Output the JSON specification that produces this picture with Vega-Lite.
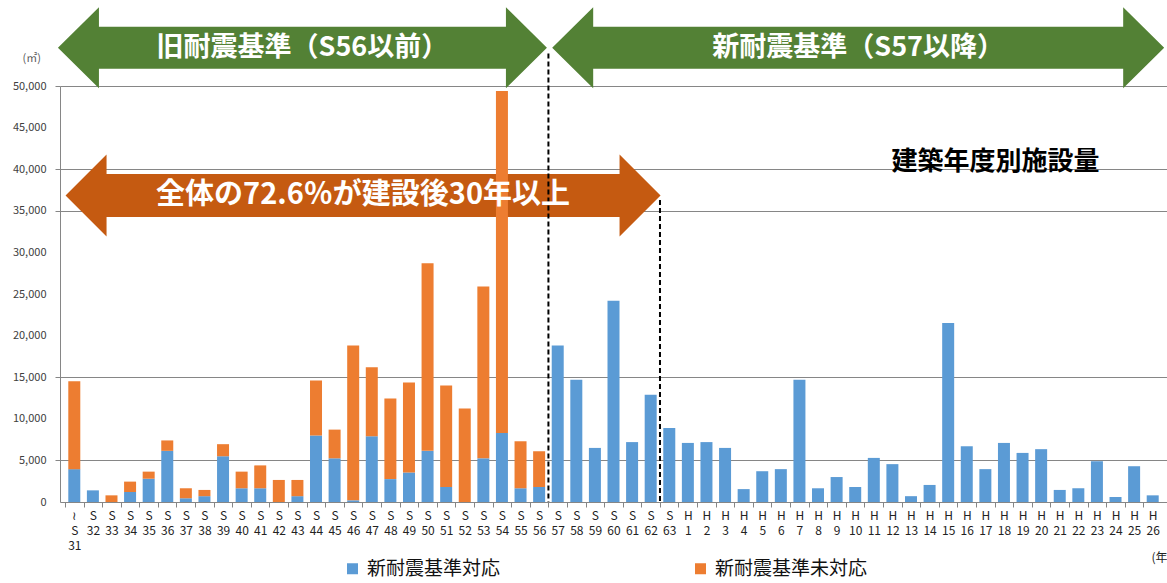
{
  "$schema": "https://vega.github.io/schema/vega-lite/v6.json",
  "width": 1107,
  "height": 416,
  "autosize": "none",
  "padding": {"left": 60, "top": 86, "right": 0, "bottom": 81},
  "background": "white",
  "config": {"view": {"stroke": null}, "font": "Noto Sans CJK JP"},
  "datasets": {
    "arrows": [
      {"範囲": "旧耐震基準", "label": "旧耐震基準（S56以前）", "番号": 12.27, "面積": 54600},
      {"範囲": "新耐震基準", "label": "新耐震基準（S57以降）", "番号": 42.16, "面積": 54600},
      {"範囲": "30年以上", "label": "全体の72.6％が建設後30年以上", "番号": 15.53, "面積": 36840}
    ]
  },
  "encoding": {
    "x": {
      "field": "番号", "type": "quantitative",
      "scale": {"domain": [-0.5, 58.5], "nice": false, "zero": false},
      "axis": {
        "values": [0,1,2,3,4,5,6,7,8,9,10,11,12,13,14,15,16,17,18,19,20,21,22,23,24,25,26,27,28,29,30,31,32,33,34,35,36,37,38,39,40,41,42,43,44,45,46,47,48,49,50,51,52,53,54,55,56,57,58],
        "labelExpr": "datum.value == 0 ? ['≀','S','31'] : (datum.value <= 32 ? ['S', '' + (datum.value + 31)] : ['H', '' + (datum.value - 32)])",
        "labelAngle": 0,
        "labelFontSize": 12,
        "labelLineHeight": 15,
        "labelPadding": 3,
        "labelColor": "#222222",
        "labelOverlap": false,
        "labelFlush": false,
        "labelBound": false,
        "labelBaseline": "top",
        "tickOffset": -9.38,
        "labelOffset": 9.38,
        "tickSize": 5,
        "tickColor": "#868686",
        "domainColor": "#868686",
        "grid": false,
        "title": "(年度)",
        "titleX": 1091,
        "titleY": 55,
        "titleAlign": "left",
        "titleBaseline": "middle",
        "titleAnchor": null,
        "titleFontSize": 12,
        "titleFontWeight": "normal",
        "titleColor": "#222222"
      }
    },
    "y": {
      "field": "面積", "type": "quantitative",
      "scale": {"domain": [0, 50000]},
      "axis": {
        "values": [0, 5000, 10000, 15000, 20000, 25000, 30000, 35000, 40000, 45000, 50000],
        "format": ",d",
        "grid": true,
        "gridColor": "#868686",
        "gridOpacity": {"condition": {"test": "indexof([5000,15000,35000,40000,50000], datum.value) >= 0", "value": 1}, "value": 0},
        "tickOpacity": {"condition": {"test": "indexof([5000,15000,35000,40000,50000], datum.value) >= 0", "value": 1}, "value": 0},
        "tickSize": 5,
        "tickColor": "#868686",
        "domainColor": "#868686",
        "labelFontSize": 11,
        "labelColor": "#404040",
        "labelPadding": 9,
        "labelOverlap": false,
        "title": "(㎡)",
        "titleAngle": 0,
        "titleX": -38,
        "titleY": -28,
        "titleAlign": "left",
        "titleBaseline": "middle",
        "titleFontSize": 11,
        "titleFontWeight": "normal",
        "titleColor": "#595959"
      }
    }
  },
  "layer": [
    {
      "data": {"name": "arrows"},
      "mark": {"type": "point", "filled": true, "size": 4, "opacity": 1, "strokeWidth": 0},
      "encoding": {
        "shape": {
          "field": "範囲", "type": "nominal", "legend": null,
          "scale": {
            "domain": ["旧耐震基準", "新耐震基準", "30年以上"],
            "range": [
              "M-244.5,0L-203.5,-40.5L-203.5,-21L203.5,-21L203.5,-40.5L244.5,0L203.5,40.5L203.5,21L-203.5,21L-203.5,40.5Z",
              "M-306,0L-265,-40.5L-265,-21L265,-21L265,-40.5L306,0L265,40.5L265,21L-265,21L-265,40.5Z",
              "M-297.5,0L-256.5,-41L-256.5,-21.5L256.5,-21.5L256.5,-41L297.5,0L256.5,41L256.5,21.5L-256.5,21.5L-256.5,41Z"
            ]
          }
        },
        "fill": {
          "field": "範囲", "type": "nominal", "legend": null,
          "scale": {"domain": ["旧耐震基準", "新耐震基準", "30年以上"], "range": ["#538135", "#538135", "#C55A11"]}
        }
      }
    },
    {
      "data": {
        "values": [
          {"番号": 0, "年度": "S31", "新耐震基準対応": 3950, "新耐震基準未対応": 10550},
          {"番号": 1, "年度": "S32", "新耐震基準対応": 1400, "新耐震基準未対応": 0},
          {"番号": 2, "年度": "S33", "新耐震基準対応": 0, "新耐震基準未対応": 800},
          {"番号": 3, "年度": "S34", "新耐震基準対応": 1200, "新耐震基準未対応": 1250},
          {"番号": 4, "年度": "S35", "新耐震基準対応": 2800, "新耐震基準未対応": 850},
          {"番号": 5, "年度": "S36", "新耐震基準対応": 6150, "新耐震基準未対応": 1250},
          {"番号": 6, "年度": "S37", "新耐震基準対応": 450, "新耐震基準未対応": 1200},
          {"番号": 7, "年度": "S38", "新耐震基準対応": 700, "新耐震基準未対応": 750},
          {"番号": 8, "年度": "S39", "新耐震基準対応": 5500, "新耐震基準未対応": 1450},
          {"番号": 9, "年度": "S40", "新耐震基準対応": 1650, "新耐震基準未対応": 2000},
          {"番号": 10, "年度": "S41", "新耐震基準対応": 1650, "新耐震基準未対応": 2750},
          {"番号": 11, "年度": "S42", "新耐震基準対応": 0, "新耐震基準未対応": 2650},
          {"番号": 12, "年度": "S43", "新耐震基準対応": 700, "新耐震基準未対応": 1950},
          {"番号": 13, "年度": "S44", "新耐震基準対応": 8000, "新耐震基準未対応": 6600},
          {"番号": 14, "年度": "S45", "新耐震基準対応": 5250, "新耐震基準未対応": 3450},
          {"番号": 15, "年度": "S46", "新耐震基準対応": 200, "新耐震基準未対応": 18600},
          {"番号": 16, "年度": "S47", "新耐震基準対応": 7900, "新耐震基準未対応": 8300},
          {"番号": 17, "年度": "S48", "新耐震基準対応": 2750, "新耐震基準未対応": 9700},
          {"番号": 18, "年度": "S49", "新耐震基準対応": 3550, "新耐震基準未対応": 10800},
          {"番号": 19, "年度": "S50", "新耐震基準対応": 6150, "新耐震基準未対応": 22550},
          {"番号": 20, "年度": "S51", "新耐震基準対応": 1800, "新耐震基準未対応": 12200},
          {"番号": 21, "年度": "S52", "新耐震基準対応": 0, "新耐震基準未対応": 11250},
          {"番号": 22, "年度": "S53", "新耐震基準対応": 5250, "新耐震基準未対応": 20650},
          {"番号": 23, "年度": "S54", "新耐震基準対応": 8300, "新耐震基準未対応": 41100},
          {"番号": 24, "年度": "S55", "新耐震基準対応": 1650, "新耐震基準未対応": 5650},
          {"番号": 25, "年度": "S56", "新耐震基準対応": 1800, "新耐震基準未対応": 4300},
          {"番号": 26, "年度": "S57", "新耐震基準対応": 18800, "新耐震基準未対応": 0},
          {"番号": 27, "年度": "S58", "新耐震基準対応": 14700, "新耐震基準未対応": 0},
          {"番号": 28, "年度": "S59", "新耐震基準対応": 6500, "新耐震基準未対応": 0},
          {"番号": 29, "年度": "S60", "新耐震基準対応": 24200, "新耐震基準未対応": 0},
          {"番号": 30, "年度": "S61", "新耐震基準対応": 7200, "新耐震基準未対応": 0},
          {"番号": 31, "年度": "S62", "新耐震基準対応": 12900, "新耐震基準未対応": 0},
          {"番号": 32, "年度": "S63", "新耐震基準対応": 8900, "新耐震基準未対応": 0},
          {"番号": 33, "年度": "H1", "新耐震基準対応": 7100, "新耐震基準未対応": 0},
          {"番号": 34, "年度": "H2", "新耐震基準対応": 7200, "新耐震基準未対応": 0},
          {"番号": 35, "年度": "H3", "新耐震基準対応": 6500, "新耐震基準未対応": 0},
          {"番号": 36, "年度": "H4", "新耐震基準対応": 1550, "新耐震基準未対応": 0},
          {"番号": 37, "年度": "H5", "新耐震基準対応": 3700, "新耐震基準未対応": 0},
          {"番号": 38, "年度": "H6", "新耐震基準対応": 3950, "新耐震基準未対応": 0},
          {"番号": 39, "年度": "H7", "新耐震基準対応": 14700, "新耐震基準未対応": 0},
          {"番号": 40, "年度": "H8", "新耐震基準対応": 1650, "新耐震基準未対応": 0},
          {"番号": 41, "年度": "H9", "新耐震基準対応": 3000, "新耐震基準未対応": 0},
          {"番号": 42, "年度": "H10", "新耐震基準対応": 1800, "新耐震基準未対応": 0},
          {"番号": 43, "年度": "H11", "新耐震基準対応": 5300, "新耐震基準未対応": 0},
          {"番号": 44, "年度": "H12", "新耐震基準対応": 4550, "新耐震基準未対応": 0},
          {"番号": 45, "年度": "H13", "新耐震基準対応": 700, "新耐震基準未対応": 0},
          {"番号": 46, "年度": "H14", "新耐震基準対応": 2050, "新耐震基準未対応": 0},
          {"番号": 47, "年度": "H15", "新耐震基準対応": 21500, "新耐震基準未対応": 0},
          {"番号": 48, "年度": "H16", "新耐震基準対応": 6700, "新耐震基準未対応": 0},
          {"番号": 49, "年度": "H17", "新耐震基準対応": 3950, "新耐震基準未対応": 0},
          {"番号": 50, "年度": "H18", "新耐震基準対応": 7100, "新耐震基準未対応": 0},
          {"番号": 51, "年度": "H19", "新耐震基準対応": 5900, "新耐震基準未対応": 0},
          {"番号": 52, "年度": "H20", "新耐震基準対応": 6350, "新耐震基準未対応": 0},
          {"番号": 53, "年度": "H21", "新耐震基準対応": 1450, "新耐震基準未対応": 0},
          {"番号": 54, "年度": "H22", "新耐震基準対応": 1650, "新耐震基準未対応": 0},
          {"番号": 55, "年度": "H23", "新耐震基準対応": 4900, "新耐震基準未対応": 0},
          {"番号": 56, "年度": "H24", "新耐震基準対応": 600, "新耐震基準未対応": 0},
          {"番号": 57, "年度": "H25", "新耐震基準対応": 4300, "新耐震基準未対応": 0},
          {"番号": 58, "年度": "H26", "新耐震基準対応": 800, "新耐震基準未対応": 0}
        ]
      },
      "transform": [{"fold": ["新耐震基準対応", "新耐震基準未対応"], "as": ["区分", "面積"]}],
      "mark": {"type": "bar", "size": 12, "orient": "vertical"},
      "encoding": {
        "y": {"field": "面積", "type": "quantitative", "stack": "zero"},
        "color": {
          "field": "区分", "type": "nominal",
          "scale": {"domain": ["新耐震基準対応", "新耐震基準未対応"], "range": ["#5B9BD5", "#ED7D31"]},
          "legend": {
            "orient": "none",
            "legendX": 283,
            "legendY": 473,
            "direction": "horizontal",
            "title": null,
            "symbolType": "square",
            "symbolSize": 121,
            "symbolStrokeWidth": 0,
            "labelFontSize": 19,
            "labelOffset": 5,
            "labelColor": "#111111",
            "columnPadding": 190,
            "padding": 0
          }
        },
        "order": {"field": "区分", "type": "nominal", "sort": "ascending"}
      }
    },
    {
      "data": {"values": [{"番号": 25.5, "面積": 53900}, {"番号": 31.5, "面積": 36300}]},
      "mark": {"type": "rule", "color": "#000000", "strokeWidth": 2, "strokeDash": [5, 3]},
      "encoding": {
        "y2": {"datum": 0}
      }
    },
    {
      "data": {"name": "arrows"},
      "transform": [{"filter": "datum['範囲'] != '30年以上'"}],
      "mark": {"type": "text", "color": "white", "fontSize": 27, "fontWeight": "bold", "align": "center", "baseline": "middle"},
      "encoding": {
        "text": {"field": "label"}
      }
    },
    {
      "data": {"name": "arrows"},
      "transform": [{"filter": "datum['範囲'] == '30年以上'"}],
      "mark": {"type": "text", "color": "white", "fontSize": 29, "fontWeight": "bold", "align": "center", "baseline": "middle"},
      "encoding": {
        "text": {"field": "label"}
      }
    },
    {
      "data": {"values": [{"label": "建築年度別施設量", "番号": 49.55, "面積": 40850}]},
      "mark": {"type": "text", "color": "#000000", "fontSize": 26, "fontWeight": "bold", "align": "center", "baseline": "middle"},
      "encoding": {
        "text": {"field": "label"}
      }
    }
  ]
}
